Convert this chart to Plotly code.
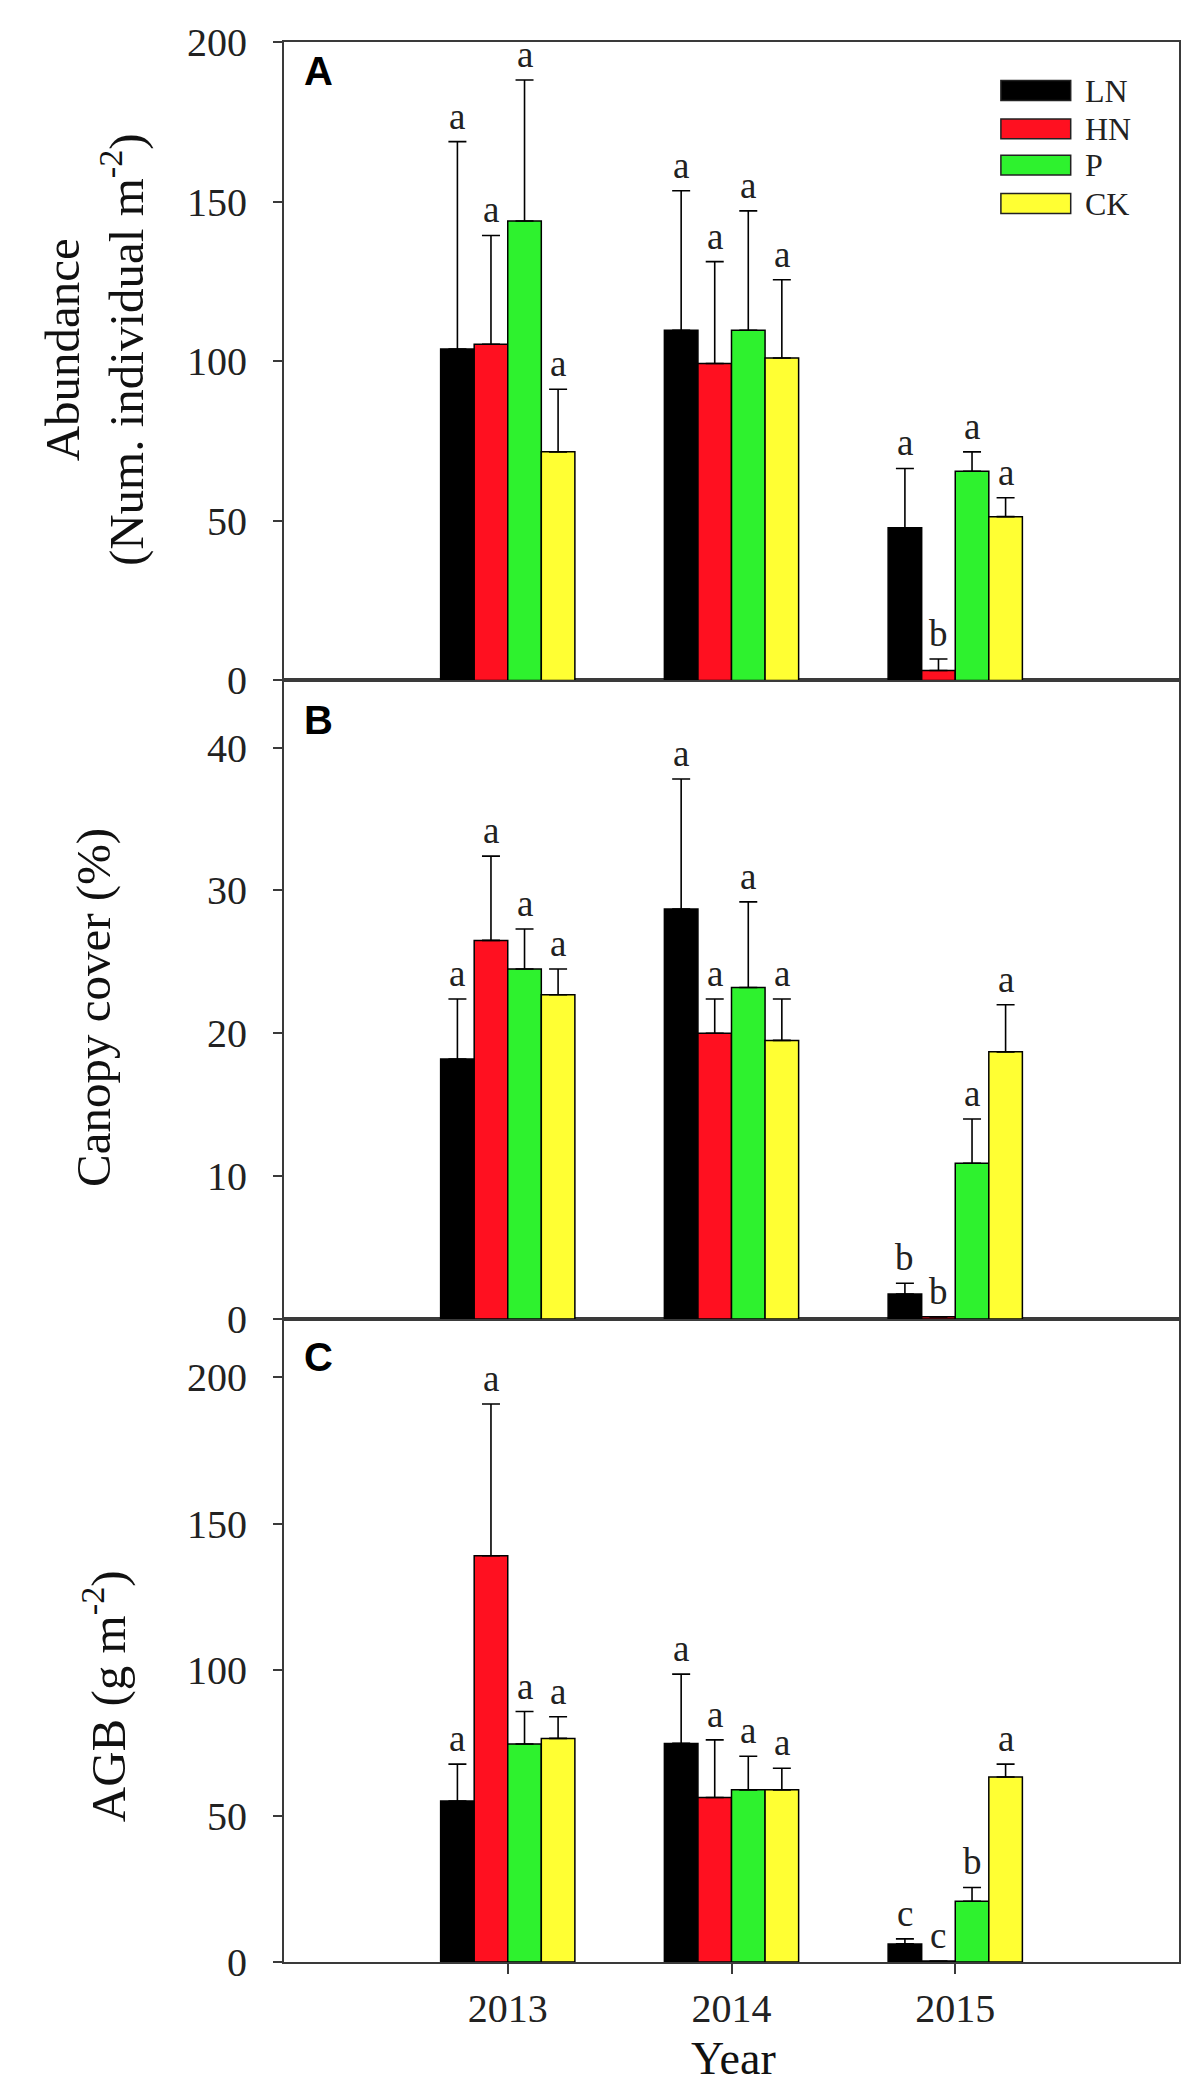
import plotly.graph_objects as go

# data
years = ["2013", "2014", "2015"]
treatments = ["LN", "HN", "P", "CK"]
colors = ["#000000", "#ff1020", "#2ef22e", "#ffff33"]

# panel A: abundance (mean, mean + SE)
abund_mean = {"LN": [103.8, 109.7, 47.8], "HN": [105.3, 99.3, 3.1],
              "P": [143.9, 109.7, 65.5], "CK": [71.6, 101.0, 51.3]}
abund_top = {"LN": [168.8, 153.4, 66.4], "HN": [139.4, 131.2, 6.7],
             "P": [188.1, 147.1, 71.6], "CK": [91.2, 125.5, 57.2]}
abund_sig = {"LN": ["a", "a", "a"], "HN": ["a", "a", "b"],
             "P": ["a", "a", "a"], "CK": ["a", "a", "a"]}

# panel B: canopy cover
cover_mean = {"LN": [18.2, 28.7, 1.75], "HN": [26.5, 20.0, 0.15],
              "P": [24.5, 23.2, 10.9], "CK": [22.7, 19.5, 18.7]}
cover_top = {"LN": [22.4, 37.8, 2.5], "HN": [32.4, 22.4, 0.15],
             "P": [27.3, 29.2, 14.0], "CK": [24.5, 22.4, 22.0]}
cover_sig = {"LN": ["a", "a", "b"], "HN": ["a", "a", "b"],
             "P": ["a", "a", "a"], "CK": ["a", "a", "a"]}

# panel C: AGB
agb_mean = {"LN": [55.1, 74.8, 6.2], "HN": [139.0, 56.3, 0.35],
            "P": [74.6, 58.9, 20.8], "CK": [76.5, 58.9, 63.3]}
agb_top = {"LN": [67.7, 98.5, 7.9], "HN": [190.9, 76.0, 0.35],
           "P": [85.7, 70.4, 25.5], "CK": [83.9, 66.3, 67.7]}
agb_sig = {"LN": ["a", "a", "c"], "HN": ["a", "a", "c"],
           "P": ["a", "a", "b"], "CK": ["a", "a", "a"]}

# (y axis, x axis, means, tops, letters)
panels = [
    ("y", "x3", abund_mean, abund_top, abund_sig),
    ("y2", "x2", cover_mean, cover_top, cover_sig),
    ("y3", "x", agb_mean, agb_top, agb_sig),
]

SERIF = "Liberation Serif"
axis_col = "#3a3a3a"

fig = go.Figure()
annotations = []
offsets = [-0.225, -0.075, 0.075, 0.225]

for yref, xref, means, tops, sigs in panels:
    for k, t in enumerate(treatments):
        up = [tp - m for tp, m in zip(tops[t], means[t])]
        fig.add_trace(go.Bar(
            x=years, y=means[t], name=t, xaxis=xref, yaxis=yref,
            marker=dict(color=colors[k], line=dict(color="black", width=1.5)),
            error_y=dict(type="data", symmetric=False, array=up, arrayminus=[0] * len(up),
                         color="black", thickness=1.6, width=9),
            showlegend=False,
        ))
        for i in range(len(years)):
            annotations.append(dict(
                x=i + offsets[k], y=tops[t][i], xref=xref, yref=yref,
                text=sigs[t][i], showarrow=False, xanchor="center", yanchor="bottom", yshift=3,
                font=dict(family=SERIF, size=37, color="#222222")))

# y-axis titles, panel letters, x title
title_font = dict(family=SERIF, size=49, color="#111111")
annotations += [
    dict(x=-0.211, y=0.8396, xref="paper", yref="paper", textangle=-90, showarrow=False,
         xanchor="center", yanchor="middle",
         text="Abundance<br>(Num. individual m<sup>-2</sup>)", font=title_font),
    dict(x=-0.212, y=0.497, xref="paper", yref="paper", textangle=-90, showarrow=False,
         xanchor="center", yanchor="middle", text="Canopy cover (%)", font=title_font),
    dict(x=-0.201, y=0.1385, xref="paper", yref="paper", textangle=-90, showarrow=False,
         xanchor="center", yanchor="middle", text="AGB (g m<sup>-2</sup>)", font=title_font),
    dict(x=0.5017, y=-0.0645, xref="paper", yref="paper", showarrow=False,
         xanchor="center", yanchor="bottom", text="Year",
         font=dict(family=SERIF, size=46, color="#111111")),
]
for lab, py in [("A", 0.985), ("B", 0.647), ("C", 0.315)]:
    annotations.append(dict(x=0.039, y=py, xref="paper", yref="paper", showarrow=False,
                            xanchor="center", yanchor="middle", text="<b>%s</b>" % lab,
                            font=dict(family="Liberation Sans", size=40, color="black")))

# legend drawn in panel A
shapes = []
leg_y = [0.924, 0.864, 0.807, 0.747]
for k, t in enumerate(treatments):
    shapes.append(dict(type="rect", xref="x3 domain", yref="y domain",
                       x0=0.801, x1=0.879, y0=leg_y[k] - 0.0155, y1=leg_y[k] + 0.0155,
                       fillcolor=colors[k], line=dict(color="#222222", width=1.5)))
    annotations.append(dict(x=0.893, y=leg_y[k], xref="x3 domain", yref="y domain",
                            text=t, showarrow=False, xanchor="left", yanchor="middle",
                            font=dict(family=SERIF, size=32, color="#222222")))

common_x = dict(type="category", range=[-1, 3], showline=True, mirror=True,
                linecolor=axis_col, linewidth=2, zeroline=False, showgrid=False)
common_y = dict(showline=True, mirror=True, linecolor=axis_col, linewidth=2, showgrid=False,
                zeroline=False, ticks="outside", ticklen=9, tickwidth=2, tickcolor=axis_col,
                tickfont=dict(family=SERIF, size=40, color="#222222"), ticklabelstandoff=18)

dC = 643 / 1920
dB = dC + 638.6 / 1920

fig.update_layout(
    width=1198, height=2093,
    margin=dict(l=276, r=27, t=34, b=139),
    paper_bgcolor="white", plot_bgcolor="white",
    barmode="group", bargap=0.4, bargroupgap=0,
    showlegend=False,
    xaxis=dict(common_x, anchor="y3", domain=[0, 1], ticks="outside", ticklen=10, tickwidth=2,
               tickcolor=axis_col, tickfont=dict(family=SERIF, size=40, color="#222222"),
               ticklabelstandoff=0),
    xaxis2=dict(common_x, anchor="y2", domain=[0, 1], showticklabels=False),
    xaxis3=dict(common_x, anchor="y", domain=[0, 1], showticklabels=False),
    yaxis=dict(common_y, anchor="x3", domain=[dB, 1], range=[0, 200], tickvals=[0, 50, 100, 150, 200]),
    yaxis2=dict(common_y, anchor="x2", domain=[dC, dB], range=[0, 44.7], tickvals=[0, 10, 20, 30, 40]),
    yaxis3=dict(common_y, anchor="x", domain=[0, dC], range=[0, 220], tickvals=[0, 50, 100, 150, 200]),
    annotations=annotations,
    shapes=shapes,
)

fig.write_html("out.html")
